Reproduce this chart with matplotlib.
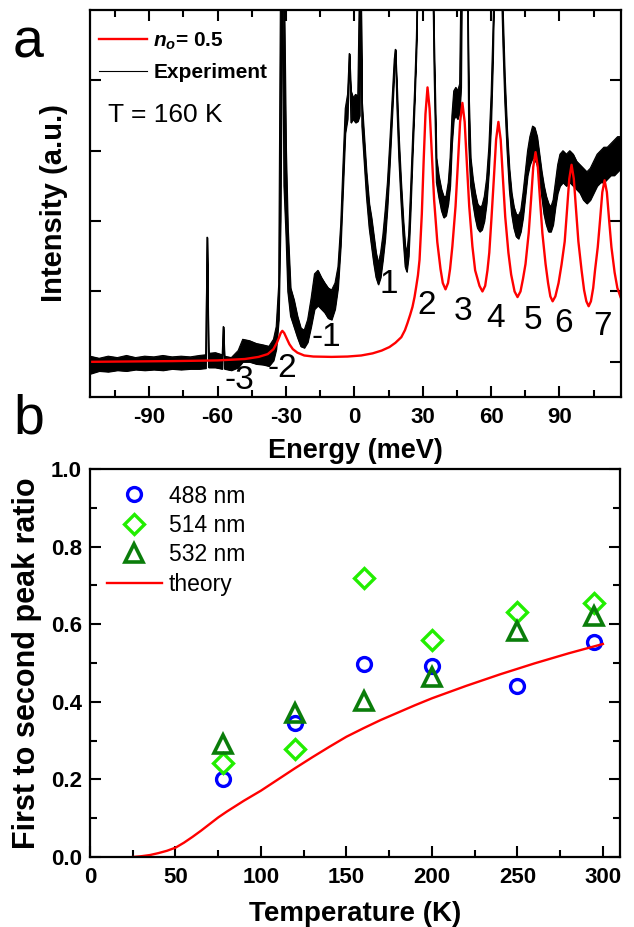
import matplotlib
matplotlib.use('Agg')
import matplotlib.pyplot as plt
from matplotlib.ticker import MultipleLocator, FixedLocator, NullFormatter
from matplotlib.lines import Line2D

plt.rcParams['font.family'] = ['Liberation Sans', 'DejaVu Sans']
plt.rcParams['axes.unicode_minus'] = False
plt.rcParams['mathtext.fontset'] = 'custom'
plt.rcParams['mathtext.it'] = 'Liberation Sans:italic:bold'
plt.rcParams['mathtext.rm'] = 'Liberation Sans:bold'
plt.rcParams['mathtext.bf'] = 'Liberation Sans:bold'

# ---------------- Panel a data ----------------
# Experimental spectrum: noise band (lower / upper envelope), 6.0 = off scale
exp_energy = [-116.0, -112.0, -108.0, -104.0, -100.0, -96.0, -92.0, -88.0, -84.0, -80.0,
              -76.0, -72.0, -68.0, -65.2, -64.6, -64.0, -61.0, -58.0, -57.5, -57.0,
              -54.0, -51.0, -49.0, -46.0, -43.0, -40.0, -37.5, -35.5, -34.3, -33.2,
              -32.4, -31.6, -30.9, -30.0, -29.2, -28.0, -26.5, -25.0, -23.5, -22.0,
              -20.5, -19.0, -17.5, -16.0, -14.5, -13.0, -11.5, -10.0, -8.5, -7.2,
              -6.0, -5.0, -4.0, -3.0, -2.2, -1.5, -0.5, 0.5, 1.5, 2.3,
              2.8, 3.3, 4.3, 5.3, 6.5, 7.5, 8.5, 9.5, 10.5, 11.5,
              12.5, 13.5, 14.5, 15.5, 16.5, 17.5, 18.0, 18.7, 19.5, 20.5,
              21.5, 22.3, 23.0, 23.8, 24.6, 25.5, 26.4, 27.2, 27.8, 34.4,
              35.0, 36.0, 37.0, 38.2, 39.2, 40.2, 41.2, 42.0, 42.8, 43.6,
              44.5, 45.3, 46.2, 46.8, 47.2, 49.6, 50.2, 51.0, 52.0, 53.0,
              54.0, 55.0, 56.0, 57.0, 58.0, 59.0, 60.0, 60.8, 61.4, 64.4,
              65.2, 66.0, 67.0, 68.0, 69.0, 70.0, 71.0, 72.0, 73.0, 74.0,
              75.0, 76.0, 77.0, 78.2, 79.1, 80.2, 81.2, 82.2, 83.2, 84.2,
              85.2, 86.2, 87.2, 88.2, 89.2, 90.2, 91.5, 93.0, 94.5, 96.0,
              97.5, 99.0, 100.5, 102.0, 103.5, 105.0, 106.5, 108.0, 109.5, 111.0,
              112.5, 114.0, 115.5, 117.0]
exp_low = [0.33, 0.37, 0.36, 0.38, 0.37, 0.39, 0.38, 0.39, 0.38, 0.40,
           0.39, 0.40, 0.40, 0.41, 2.27, 0.42, 0.42, 0.40, 1.00, 0.40,
           0.38, 0.42, 0.50, 0.50, 0.47, 0.46, 0.44, 0.52, 0.68, 1.10,
           2.50, 6.00, 3.00, 2.30, 1.50, 1.15, 1.00, 0.85, 0.72, 0.70,
           0.78, 1.00, 1.25, 1.30, 1.25, 1.20, 1.12, 1.10, 1.25, 1.55,
           2.15, 2.95, 3.75, 3.95, 4.88, 3.90, 3.95, 3.90, 3.92, 4.00,
           6.00, 3.85, 3.35, 2.85, 2.40, 2.15, 1.90, 1.70, 1.60, 1.70,
           1.95, 2.25, 2.70, 3.30, 3.95, 4.60, 4.94, 4.10, 3.40, 2.75,
           2.20, 1.85, 1.78, 2.00, 2.60, 3.40, 4.15, 4.90, 6.00, 6.00,
           4.60, 3.05, 2.85, 2.65, 2.55, 2.58, 2.75, 3.00, 3.60, 3.95,
           4.00, 3.95, 4.05, 4.40, 6.00, 6.00, 3.60, 3.00, 2.75, 2.55,
           2.40, 2.35, 2.38, 2.50, 2.75, 3.20, 3.90, 4.80, 6.00, 6.00,
           5.00, 4.20, 3.50, 2.95, 2.60, 2.40, 2.28, 2.25, 2.35, 2.55,
           2.85, 3.15, 3.30, 3.40, 3.38, 3.30, 3.10, 2.85, 2.60, 2.45,
           2.35, 2.35, 2.45, 2.70, 2.90, 3.00, 3.05, 3.00, 3.05, 3.00,
           2.95, 2.90, 2.80, 2.75, 2.80, 2.90, 3.00, 3.05, 3.05, 3.10,
           3.15, 3.15, 3.20, 3.25]
exp_high = [0.58, 0.55, 0.58, 0.56, 0.59, 0.56, 0.58, 0.57, 0.59, 0.57,
            0.58, 0.57, 0.59, 0.60, 2.27, 0.62, 0.63, 0.60, 1.00, 0.58,
            0.56, 0.66, 0.82, 0.80, 0.76, 0.74, 0.72, 0.82, 1.00, 1.60,
            6.00, 6.00, 6.00, 3.50, 2.40, 1.55, 1.38, 1.15, 0.98, 0.95,
            1.10, 1.40, 1.75, 1.80, 1.70, 1.62, 1.55, 1.52, 1.62, 1.85,
            2.45, 3.30, 4.10, 4.30, 4.88, 4.35, 4.25, 4.30, 4.28, 6.00,
            6.00, 4.20, 3.70, 3.20, 2.75, 2.55, 2.30, 2.05, 1.90, 2.05,
            2.30, 2.65, 3.05, 3.60, 4.20, 4.80, 4.94, 4.40, 3.70, 3.05,
            2.50, 2.15, 2.05, 2.30, 2.90, 3.65, 4.35, 5.10, 6.00, 6.00,
            5.00, 3.40, 3.15, 2.95, 2.85, 2.85, 3.05, 3.40, 4.00, 4.35,
            4.40, 4.35, 4.45, 6.00, 6.00, 6.00, 4.30, 3.40, 3.10, 2.90,
            2.75, 2.70, 2.72, 2.85, 3.10, 3.55, 4.30, 5.20, 6.00, 6.00,
            5.40, 4.55, 3.80, 3.25, 2.90, 2.70, 2.60, 2.58, 2.65, 2.90,
            3.20, 3.50, 3.70, 3.85, 3.83, 3.70, 3.45, 3.20, 3.00, 2.85,
            2.75, 2.70, 2.80, 3.05, 3.30, 3.45, 3.50, 3.45, 3.50, 3.45,
            3.35, 3.30, 3.25, 3.20, 3.25, 3.35, 3.45, 3.50, 3.55, 3.55,
            3.60, 3.65, 3.70, 3.70]

# Theory curve (n_o = 0.5)
theory_energy = [-116, -80, -60, -48, -42, -38, -35.5, -34, -33, -32.3,
                 -31.6, -30.8, -29.8, -28.5, -27, -25, -22, -18, -10, -3,
                 3, 8, 12, 15.4, 18, 20.6, 22.2, 23.3, 24.5, 25.5,
                 26.4, 27.1, 27.9, 28.6, 29.6, 30.4, 31.2, 32.1, 33.0, 34.0,
                 35.0, 36.4, 37.8, 38.8, 40.0, 41.1, 42.0, 43.0, 44.4, 45.4,
                 46.4, 47.4, 48.4, 49.4, 50.4, 51.8, 53.0, 54.9, 56.2, 57.4,
                 58.4, 59.2, 60.2, 61.2, 62.2, 63.2, 64.2, 65.2, 66.2, 67.6,
                 68.8, 70.3, 71.6, 72.9, 74.0, 75.1, 76.5, 77.5, 78.5, 79.5,
                 80.5, 81.5, 82.5, 83.9, 85.0, 86.0, 87.0, 88.2, 89.6, 90.9,
                 92.3, 93.3, 94.3, 95.3, 96.3, 97.3, 98.3, 99.7, 100.8, 101.8,
                 102.8, 103.8, 104.8, 105.6, 106.8, 107.8, 108.8, 109.8, 110.8, 111.8,
                 112.8, 114.2, 115.4, 116.8]
theory_intensity = [0.50, 0.51, 0.52, 0.54, 0.57, 0.61, 0.68, 0.77, 0.85, 0.91,
                    0.94, 0.91, 0.84, 0.75, 0.68, 0.63, 0.59, 0.575, 0.57, 0.575,
                    0.59, 0.62, 0.66, 0.71, 0.77, 0.85, 0.95, 1.05, 1.17, 1.28,
                    1.42, 1.56, 1.73, 1.95, 2.60, 3.35, 4.02, 4.40, 4.10, 3.45,
                    2.80, 2.20, 1.82, 1.62, 1.53, 1.62, 1.82, 2.14, 2.71, 3.30,
                    3.91, 4.18, 3.91, 3.30, 2.71, 2.14, 1.80, 1.58, 1.50, 1.58,
                    1.80, 2.05, 2.56, 3.10, 3.66, 3.91, 3.66, 3.10, 2.56, 2.05,
                    1.74, 1.50, 1.42, 1.50, 1.68, 1.89, 2.33, 2.79, 3.27, 3.48,
                    3.27, 2.79, 2.33, 1.89, 1.62, 1.43, 1.36, 1.43, 1.62, 1.88,
                    2.21, 2.65, 3.10, 3.30, 3.10, 2.65, 2.21, 1.80, 1.52, 1.36,
                    1.29, 1.36, 1.55, 1.80, 2.13, 2.51, 2.91, 3.08, 2.91, 2.51,
                    2.13, 1.77, 1.55, 1.42]

peak_labels = ['-3', '-2', '-1', '1', '2', '3', '4', '5', '6', '7']
peak_label_energy = [-50.5, -31.6, -12.3, 15.0, 31.6, 47.8, 61.9, 78.2, 91.8, 109.0]
peak_label_y = [0.24, 0.41, 0.85, 1.60, 1.30, 1.22, 1.12, 1.09, 1.04, 1.00]

# ---------------- Panel b data ----------------
temperature = [78, 120, 160, 200, 250, 295]
ratio_488 = [0.200, 0.345, 0.497, 0.493, 0.441, 0.555]
ratio_514 = [0.243, 0.278, 0.720, 0.560, 0.632, 0.654]
ratio_532 = [0.290, 0.370, 0.403, 0.465, 0.582, 0.622]
theory_T = [25, 30, 35, 40, 45, 50, 55, 60, 65, 70, 75, 80, 85, 90, 95, 100,
            110, 120, 130, 140, 150, 160, 170, 180, 190, 200, 210, 220, 230, 240,
            250, 260, 270, 280, 290, 300]
theory_ratio = [0.000, 0.002, 0.005, 0.010, 0.016, 0.024, 0.037, 0.052, 0.068, 0.085,
                0.102, 0.117, 0.131, 0.145, 0.158, 0.171, 0.200, 0.229, 0.257, 0.284,
                0.310, 0.332, 0.353, 0.372, 0.391, 0.409, 0.425, 0.441, 0.456, 0.471,
                0.485, 0.499, 0.512, 0.525, 0.537, 0.549]

W, H = 634, 927
fig = plt.figure(figsize=(W / 100, H / 100), dpi=100)
axa = fig.add_axes([90 / W, 1 - 397 / H, 531 / W, 387 / H])
axb = fig.add_axes([90 / W, 1 - 857 / H, 530 / W, 388 / H])

TICKFS = 16
# ---------------- Panel a ----------------
axa.fill_between(exp_energy, exp_low, exp_high, color='black', lw=0.8)
axa.plot(exp_energy, exp_high, color='black', lw=0.8)
axa.plot(exp_energy, exp_low, color='black', lw=0.8)
axa.plot(theory_energy, theory_intensity, color='red', lw=1.7)
axa.set_xlim(-116, 117)
axa.set_ylim(0, 5.5)
axa.xaxis.set_major_locator(MultipleLocator(30))
axa.xaxis.set_minor_locator(MultipleLocator(15))
axa.yaxis.set_major_locator(FixedLocator([0.5, 1.5, 2.5, 3.5, 4.5]))
axa.yaxis.set_major_formatter(NullFormatter())
axa.tick_params(which='both', direction='in', top=True, right=True, width=1.5)
axa.tick_params(which='major', length=8, pad=7, labelsize=TICKFS)
axa.tick_params(which='minor', length=5)
for s in axa.spines.values():
    s.set_linewidth(1.6)
for lbl in axa.get_xticklabels():
    lbl.set_fontweight('bold')
axa.set_xlabel('Energy (meV)', fontsize=19.5, fontweight='bold')
axa.xaxis.set_label_coords(0.5, -0.105)
axa.set_ylabel('Intensity (a.u.)', fontsize=21, fontweight='bold')
axa.yaxis.set_label_coords(-0.041, 0.5)

for lab, e, y in zip(peak_labels, peak_label_energy, peak_label_y):
    axa.text(e, y, lab, ha='center', va='center', fontsize=24)

hand_a = [Line2D([], [], color='red', lw=1.7), Line2D([], [], color='black', lw=0.8)]
axa.legend(hand_a, [r'$n_o$= 0.5', 'Experiment'], loc='upper left',
           bbox_to_anchor=(0.017, 0.947), frameon=False, prop={'weight': 'bold', 'size': 15},
           handlelength=2.3, handletextpad=0.3, labelspacing=0.55, borderpad=0, borderaxespad=0)
fig.text(108 / W, 1 - 115 / H, 'T = 160 K', fontsize=19, ha='left', va='center')

# ---------------- Panel b ----------------
axb.plot(temperature, ratio_488, 'o', mfc='none', mec='#0000ff', mew=2.4, ms=10, label='488 nm')
axb.plot(temperature, ratio_514, 'D', mfc='none', mec='#22ee00', mew=2.4, ms=10.5, label='514 nm')
axb.plot(temperature, ratio_532, '^', mfc='none', mec='#0a7d0a', mew=2.6, ms=13, label='532 nm')
axb.plot(theory_T, theory_ratio, color='red', lw=1.7, label='theory')
axb.set_xlim(0, 310)
axb.set_ylim(0, 1.0)
axb.xaxis.set_major_locator(MultipleLocator(50))
axb.xaxis.set_minor_locator(MultipleLocator(25))
axb.yaxis.set_major_locator(MultipleLocator(0.2))
axb.yaxis.set_minor_locator(MultipleLocator(0.1))
axb.tick_params(which='both', direction='in', top=False, right=True, width=1.5)
axb.tick_params(which='major', length=8, labelsize=TICKFS)
axb.tick_params(which='minor', length=5)
axb.tick_params(axis='x', which='major', pad=7)
axb.tick_params(axis='y', which='major', pad=6)
for s in axb.spines.values():
    s.set_linewidth(1.6)
for lbl in axb.get_xticklabels() + axb.get_yticklabels():
    lbl.set_fontweight('bold')
axb.set_xlabel('Temperature (K)', fontsize=20, fontweight='bold')
axb.xaxis.set_label_coords(0.5, -0.113)
axb.set_ylabel('First to second peak ratio', fontsize=22, fontweight='bold')
axb.yaxis.set_label_coords(-0.09, 0.5)
axb.legend(loc='upper left', bbox_to_anchor=(0.032, 0.96), frameon=False, fontsize=16.5,
           handlelength=2.4, handletextpad=0.3, labelspacing=0.28, borderpad=0, borderaxespad=0)

fig.text(13 / W, 1 - 58 / H, 'a', fontsize=40, ha='left', va='baseline')
fig.text(13 / W, 1 - 433 / H, 'b', fontsize=40, ha='left', va='baseline')

fig.savefig('out.png', dpi=100)
